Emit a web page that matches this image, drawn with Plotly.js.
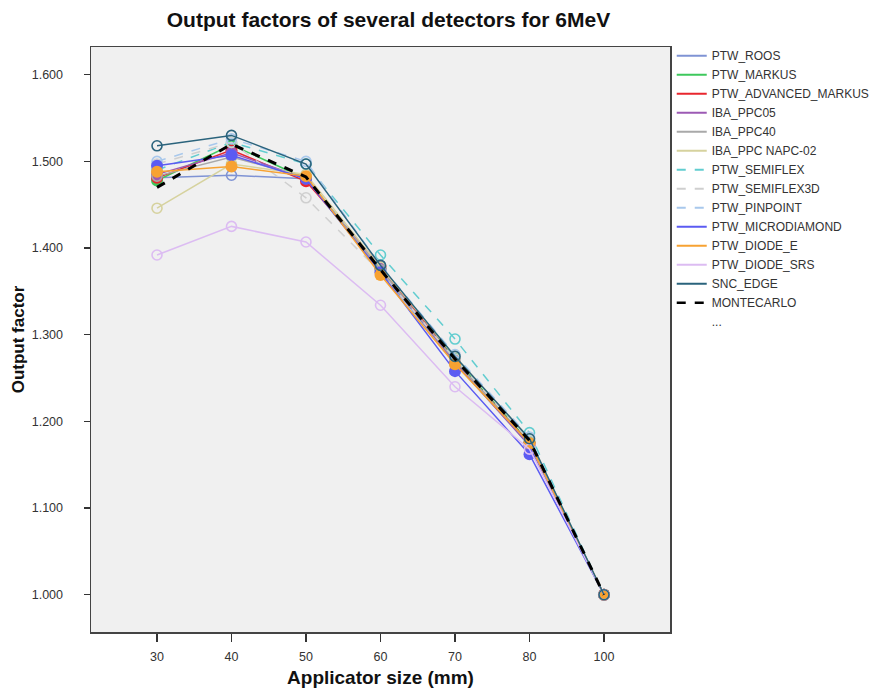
<!DOCTYPE html>
<html>
<head>
<meta charset="utf-8">
<script src="https://cdn.plot.ly/plotly-3.0.1.min.js"></script>
<style>html,body{margin:0;padding:0;background:#fff;}#chart{width:889px;height:689px;}</style>
</head>
<body>
<div id="chart"></div>
<script>
// Categories (applicator size in mm)
const sizes = ["30", "40", "50", "60", "70", "80", "100"];

// Output factor series per detector
const ptwRoos          = [1.481, 1.484, 1.480, 1.373, 1.268, 1.172, 1.000];
const ptwMarkus        = [1.478, 1.519, 1.480, 1.376, 1.272, 1.176, 1.000];
const ptwAdvMarkus     = [1.481, 1.513, 1.477, 1.379, 1.270, 1.175, 1.000];
const ibaPpc05         = [1.485, 1.510, 1.480, 1.376, 1.268, 1.172, 1.000];
const ibaPpc40         = [1.483, 1.505, 1.482, 1.375, 1.270, 1.174, 1.000];
const ibaNapc02        = [1.446, 1.497, 1.485, 1.378, 1.275, 1.180, 1.000];
const ptwSemiflex      = [1.490, 1.522, 1.497, 1.392, 1.295, 1.187, 1.000];
const ptwSemiflex3d    = [1.497, 1.522, 1.458, 1.372, 1.272, 1.178, 1.000];
const ptwPinpoint      = [1.500, 1.526, 1.500, 1.380, 1.277, 1.182, 1.000];
const ptwMicrodiamond  = [1.495, 1.507, 1.480, 1.372, 1.258, 1.162, 1.000];
const ptwDiodeE        = [1.488, 1.494, 1.483, 1.369, 1.266, 1.175, 1.000];
const ptwDiodeSrs      = [1.392, 1.425, 1.407, 1.334, 1.240, 1.168, 1.000];
const sncEdge          = [1.518, 1.530, 1.497, 1.380, 1.275, 1.180, 1.000];
const monteCarlo       = [1.470, 1.520, 1.482, 1.375, 1.272, 1.178, 1.000];

const yTickVals = [1.0, 1.1, 1.2, 1.3, 1.4, 1.5, 1.6];

const series = [
  {name: "PTW_ROOS",            y: ptwRoos,         color: "#7f93d4", dash: "solid", hollow: true},
  {name: "PTW_MARKUS",          y: ptwMarkus,       color: "#3ec85c", dash: "solid", hollow: false},
  {name: "PTW_ADVANCED_MARKUS", y: ptwAdvMarkus,    color: "#e8262e", dash: "solid", hollow: false},
  {name: "IBA_PPC05",           y: ibaPpc05,        color: "#9c5ab4", dash: "solid", hollow: false},
  {name: "IBA_PPC40",           y: ibaPpc40,        color: "#a9a9a9", dash: "solid", hollow: true},
  {name: "IBA_PPC NAPC-02",     y: ibaNapc02,       color: "#d6d29e", dash: "solid", hollow: true},
  {name: "PTW_SEMIFLEX",        y: ptwSemiflex,     color: "#62cdd0", dash: "dash",  hollow: true},
  {name: "PTW_SEMIFLEX3D",      y: ptwSemiflex3d,   color: "#cfcfcf", dash: "dash",  hollow: true},
  {name: "PTW_PINPOINT",        y: ptwPinpoint,     color: "#a8c8ec", dash: "dash",  hollow: true},
  {name: "PTW_MICRODIAMOND",    y: ptwMicrodiamond, color: "#5b5bf2", dash: "solid", hollow: false},
  {name: "PTW_DIODE_E",         y: ptwDiodeE,       color: "#f7a232", dash: "solid", hollow: false},
  {name: "PTW_DIODE_SRS",       y: ptwDiodeSrs,     color: "#dcbcf2", dash: "solid", hollow: true},
  {name: "SNC_EDGE",            y: sncEdge,         color: "#2a637c", dash: "solid", hollow: true},
  {name: "MONTECARLO",          y: monteCarlo,      color: "#000000", dash: "dash",  hollow: null}
];

const traces = [];
// plotted traces (no legend)
series.forEach(s => {
  const t = {
    type: "scatter", x: sizes, y: s.y, name: s.name, showlegend: false,
    line: {color: s.color, width: s.hollow === null ? 3 : 1.5, dash: s.dash},
    hoverinfo: "x+y+name"
  };
  if (s.hollow === null) {
    t.mode = "lines";
  } else if (s.hollow) {
    t.mode = "lines+markers";
    t.marker = {symbol: "circle-open", size: 10, color: s.color, line: {width: 1.6, color: s.color}};
  } else {
    t.mode = "lines+markers";
    t.marker = {symbol: "circle", size: 12, color: s.color, line: {width: 0}};
  }
  traces.push(t);
});
// legend entries (lines only, as in the reference)
series.forEach(s => {
  traces.push({
    type: "scatter", mode: "lines", x: [null], y: [null], name: s.name, showlegend: true,
    line: {color: s.color, width: s.hollow === null ? 2.5 : 2, dash: s.dash}
  });
});
traces.push({type: "scatter", mode: "lines", x: [null], y: [null], name: "...", showlegend: true,
  line: {color: "rgba(0,0,0,0)", width: 0}});

const layout = {
  width: 889, height: 689,
  margin: {l: 91, r: 219, t: 47, b: 57, autoexpand: false},
  paper_bgcolor: "#ffffff",
  plot_bgcolor: "#f0f0f0",
  font: {family: "Liberation Sans, Arial, sans-serif", color: "#333333", size: 12},
  title: {text: "<b>Output factors of several detectors for 6MeV</b>", x: 0.437, xanchor: "center", y: 0.972, yanchor: "middle",
          font: {size: 21, color: "#111111"}},
  xaxis: {
    type: "category", range: [-0.886, 6.886],
    showgrid: false, zeroline: false,
    showline: true, mirror: true, linecolor: "#444444", linewidth: 1.5,
    ticks: "outside", ticklen: 8, tickcolor: "#333333", tickwidth: 1.5,
    ticklabelstandoff: 4,
    tickfont: {size: 12.5, color: "#333333"},
    title: {text: "<b>Applicator size (mm)</b>", font: {size: 19, color: "#111111"}, standoff: 8}
  },
  yaxis: {
    range: [0.957, 1.632],
    tickvals: yTickVals, tickformat: ".3f",
    showgrid: false, zeroline: false,
    showline: true, mirror: true, linecolor: "#444444", linewidth: 1.5,
    ticks: "outside", ticklen: 6, tickcolor: "#333333", tickwidth: 1.5,
    ticklabelstandoff: 18,
    tickfont: {size: 12.5, color: "#333333"},
    title: {text: "<b>Output factor</b>", font: {size: 17, color: "#111111"}, standoff: 3}
  },
  legend: {
    x: 1.003, xanchor: "left", y: 1.01, yanchor: "top",
    font: {size: 12, color: "#333333"},
    bgcolor: "rgba(0,0,0,0)", borderwidth: 0,
    itemwidth: 30, tracegroupgap: 0
  },
  showlegend: true
};

Plotly.newPlot("chart", traces, layout, {displayModeBar: false, staticPlot: true});
</script>
</body>
</html>
